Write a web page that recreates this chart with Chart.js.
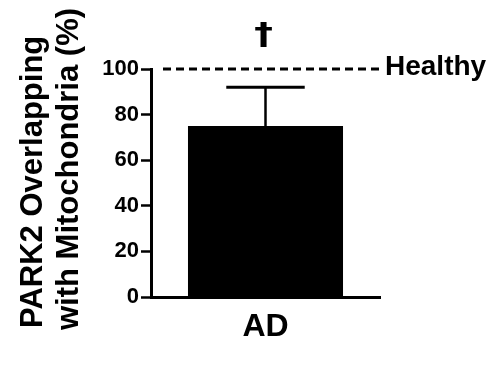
<!DOCTYPE html>
<html><head><meta charset="utf-8">
<script src="https://cdn.jsdelivr.net/npm/chart.js@4"></script>
<style>html,body{margin:0;padding:0;background:#fff}</style>
</head><body>
<canvas id="c" width="489" height="369" style="width:489px;height:369px;display:block"></canvas>
<script>
const categories = ['AD'];
const meanValues = [75];
const errorUpper = [92];
const significanceMarks = ['†'];
const healthyValue = 100;
const healthyLabel = 'Healthy';
const yMin = 0, yMax = 100, yStep = 20;
const yTitleLines = ['PARK2 Overlapping', 'with Mitochondria (%)'];

const FONT = '"Liberation Sans", Arial, sans-serif';
Chart.defaults.font.family = FONT;
Chart.defaults.color = '#000';

const annot = {
  id: 'annot',
  afterDatasetsDraw(chart) {
    const {ctx, chartArea, scales: {y}} = chart;
    const meta = chart.getDatasetMeta(0);
    ctx.save();
    ctx.strokeStyle = '#000'; ctx.fillStyle = '#000';
    // Healthy reference line
    const yh = y.getPixelForValue(healthyValue);
    ctx.lineWidth = 3; ctx.setLineDash([8, 5]);
    ctx.beginPath(); ctx.moveTo(chartArea.left + 12, yh); ctx.lineTo(chartArea.right + 2, yh); ctx.stroke();
    ctx.setLineDash([]);
    ctx.font = 'bold 28px ' + FONT;
    ctx.textAlign = 'left'; ctx.textBaseline = 'alphabetic';
    ctx.fillText(healthyLabel, chartArea.right + 5, yh + 6);
    // error bars + significance
    meta.data.forEach((bar, i) => {
      const yt = y.getPixelForValue(errorUpper[i]);
      const yb = y.getPixelForValue(meanValues[i]);
      ctx.lineWidth = 2.5;
      ctx.beginPath(); ctx.moveTo(bar.x, yb); ctx.lineTo(bar.x, yt); ctx.stroke();
      ctx.lineWidth = 3;
      ctx.beginPath(); ctx.moveTo(bar.x - bar.width * 0.253, yt); ctx.lineTo(bar.x + bar.width * 0.253, yt); ctx.stroke();
      ctx.save();
      ctx.font = 'bold 30px "DejaVu Sans", sans-serif';
      ctx.textAlign = 'center';
      ctx.translate(bar.x - 2, 44);
      ctx.scale(1.25, 1);
      ctx.fillText(significanceMarks[i], 0, 0);
      ctx.restore();
    });
    ctx.restore();
  },
  afterDraw(chart) {
    const ctx = chart.ctx;
    ctx.save();
    ctx.fillStyle = '#000';
    ctx.font = 'bold 31px ' + FONT;
    ctx.textAlign = 'left'; ctx.textBaseline = 'alphabetic';
    const pos = [[42, 328], [78, 330]];
    yTitleLines.forEach((t, i) => {
      ctx.save();
      ctx.translate(pos[i][0], pos[i][1]);
      ctx.rotate(-Math.PI / 2);
      ctx.fillText(t, 0, 0);
      ctx.restore();
    });
    ctx.restore();
  }
};

new Chart(document.getElementById('c'), {
  type: 'bar',
  data: {
    labels: categories,
    datasets: [{
      data: meanValues,
      backgroundColor: '#000',
      borderWidth: 0,
      barPercentage: 0.677,
      categoryPercentage: 1
    }]
  },
  options: {
    responsive: false,
    animation: false,
    devicePixelRatio: 1,
    layout: { padding: { top: 69, right: 109, bottom: 0, left: 0 } },
    plugins: { legend: { display: false }, tooltip: { enabled: false }, title: { display: false } },
    scales: {
      x: {
        grid: { display: false, drawTicks: false },
        border: { display: true, color: '#000', width: 3 },
        ticks: { font: { size: 32, weight: 'bold' }, padding: 11, color: '#000' },
        afterFit(s) { s.height = 72; }
      },
      y: {
        min: yMin, max: yMax,
        grid: { drawOnChartArea: false, drawTicks: true, tickLength: 10, tickWidth: 2.5, tickColor: '#000' },
        border: { display: true, color: '#000', width: 3 },
        ticks: { stepSize: yStep, font: { size: 22, weight: 'bold' }, padding: 2, color: '#000' },
        afterFit(s) { s.width = 151; }
      }
    }
  },
  plugins: [annot]
});
</script>
</body></html>
